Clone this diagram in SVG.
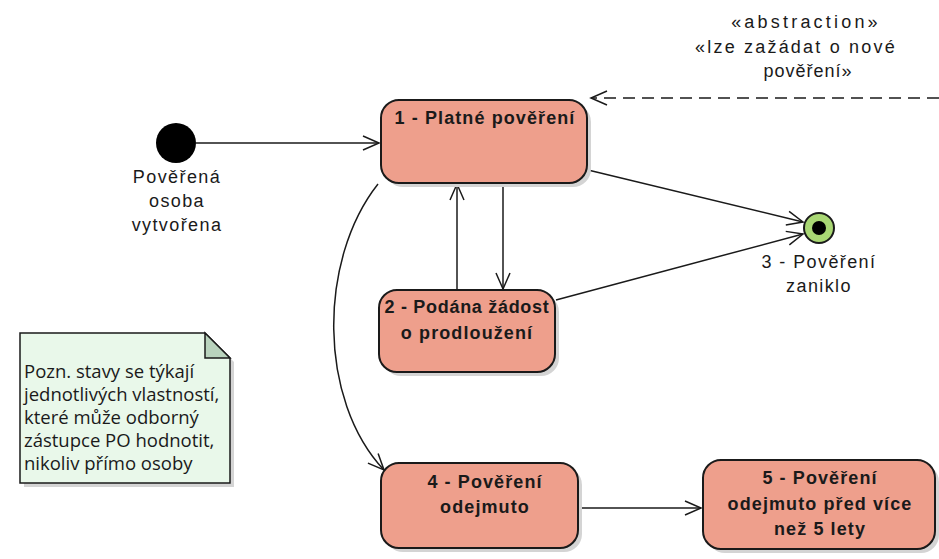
<svg xmlns="http://www.w3.org/2000/svg" width="939" height="559" viewBox="0 0 939 559">
<defs>
<style>
.state{fill:#ee9f8c;stroke:#1a1a1a;stroke-width:2}
.shadow{fill:#d4d4d4}
.st{font-family:"Liberation Sans",Arial,sans-serif;font-weight:bold;font-size:18px;fill:#1a1a1a;text-anchor:middle;letter-spacing:1.1px}
.lbl{font-family:"Liberation Sans",Arial,sans-serif;font-size:18px;fill:#1a1a1a;text-anchor:middle;letter-spacing:1.4px}
.note{font-family:"Open Sans","Noto Sans",sans-serif;font-size:18.5px;fill:#1a1a1a}
.edge{fill:none;stroke:#1a1a1a;stroke-width:1.5}
</style>
<marker id="arr" markerWidth="20" markerHeight="16" refX="18" refY="8" orient="auto" markerUnits="userSpaceOnUse">
<path d="M2,1 L18,8 L2,15" fill="none" stroke="#1a1a1a" stroke-width="1.5"/>
</marker>
</defs>
<rect width="939" height="559" fill="#ffffff"/>

<g id="connectors">
<line class="edge" x1="196" y1="143" x2="379" y2="143" marker-end="url(#arr)"/>
<line class="edge" x1="588" y1="170" x2="803" y2="222" marker-end="url(#arr)"/>
<line class="edge" x1="556" y1="300" x2="803" y2="234" marker-end="url(#arr)"/>
<line class="edge" x1="503" y1="184" x2="503" y2="289" marker-end="url(#arr)"/>
<line class="edge" x1="457" y1="289" x2="457" y2="184" marker-end="url(#arr)"/>
<path class="edge" d="M378,184 C318,260 318,400 384,470" marker-end="url(#arr)"/>
<line class="edge" x1="578" y1="508" x2="701" y2="508" marker-end="url(#arr)"/>
<line class="edge" x1="939" y1="98" x2="591" y2="98" stroke-dasharray="12,7" marker-end="url(#arr)"/>
<text class="lbl" x="806" y="28" style="letter-spacing:3.2px">«abstraction»</text>
<text class="lbl" x="796" y="53" style="letter-spacing:2.2px">«lze zažádat o nové</text>
<text class="lbl" x="808" y="77" style="letter-spacing:1px">pověření»</text>
</g>

<g id="initial">
<circle cx="176" cy="143" r="20" fill="#000"/>
<text class="lbl" x="177" y="183">Pověřená</text>
<text class="lbl" x="177" y="207">osoba</text>
<text class="lbl" x="177" y="231">vytvořena</text>
</g>

<g id="state1">
<rect class="shadow" x="385" y="104" width="206" height="83" rx="18"/>
<rect class="state" x="381" y="100" width="206" height="83" rx="18"/>
<text class="st" x="485" y="124">1 - Platné pověření</text>
</g>

<g id="state2">
<rect class="shadow" x="383" y="294" width="176" height="82" rx="18"/>
<rect class="state" x="379" y="290" width="176" height="82" rx="18"/>
<text class="st" x="467" y="313" style="letter-spacing:0.7px">2 - Podána žádost</text>
<text class="st" x="467" y="339">o prodloužení</text>
</g>

<g id="final">
<circle cx="819" cy="228" r="15" fill="#a9d774" stroke="#1a1a1a" stroke-width="2"/>
<circle cx="819" cy="228" r="7" fill="#000"/>
<text class="lbl" x="819" y="268">3 - Pověření</text>
<text class="lbl" x="819" y="292">zaniklo</text>
</g>

<g id="state4">
<rect class="shadow" x="385" y="467" width="197" height="85" rx="18"/>
<rect class="state" x="381" y="463" width="197" height="85" rx="18"/>
<text class="st" x="485" y="488">4 - Pověření</text>
<text class="st" x="485" y="513">odejmuto</text>
</g>

<g id="state5">
<rect class="shadow" x="707" y="464" width="232" height="89" rx="18"/>
<rect class="state" x="703" y="460" width="232" height="89" rx="18"/>
<text class="st" x="820" y="484">5 - Pověření</text>
<text class="st" x="820" y="510">odejmuto před více</text>
<text class="st" x="820" y="535">než 5 lety</text>
</g>

<g id="note">
<path d="M24,337 L209,337 L234,362 L234,487 L24,487 Z" fill="#d4d4d4"/>
<path d="M20,333 L205,333 L230,358 L230,483 L20,483 Z" fill="#e9f8ea" stroke="#1a1a1a" stroke-width="1.5"/>
<path d="M205,333 L205,358 L230,358 Z" fill="#b9d3bd" stroke="#1a1a1a" stroke-width="1.5"/>
<text class="note" x="24" y="378">Pozn. stavy se týkají</text>
<text class="note" x="24" y="401">jednotlivých vlastností,</text>
<text class="note" x="24" y="424">které může odborný</text>
<text class="note" x="24" y="447">zástupce PO hodnotit,</text>
<text class="note" x="24" y="470">nikoliv přímo osoby</text>
</g>
</svg>
